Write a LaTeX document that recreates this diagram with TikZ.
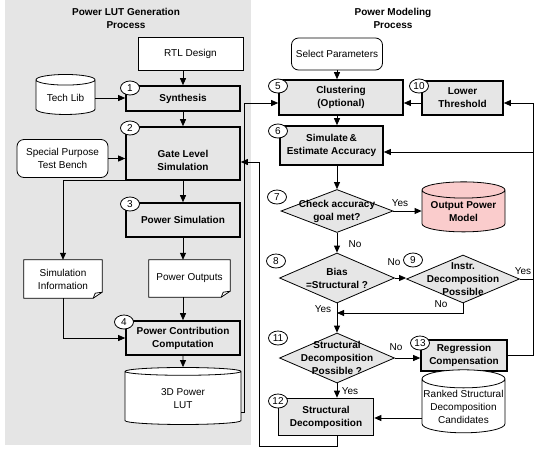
\documentclass[tikz,border=0pt]{standalone}
\usepackage{fontspec}
\setmainfont{Liberation Sans}
\usetikzlibrary{shapes.geometric,arrows.meta}
\definecolor{panelgray}{RGB}{229,229,229}
\definecolor{boxgray}{RGB}{230,230,230}
\definecolor{modelpink}{RGB}{250,204,204}
\tikzset{
  txt/.style={font=\fontsize{10}{13}\selectfont},
  btxt/.style={font=\fontsize{10}{13}\selectfont\bfseries},
  title/.style={btxt,align=center},
  proc/.style={btxt,draw,line width=1.6pt,fill=boxgray,align=center,inner sep=1pt},
  io/.style={txt,draw,line width=0.8pt,fill=white,align=center,inner sep=1pt},
  term/.style={io,rounded corners=7pt},
  drum/.style={txt,cylinder,shape border rotate=90,draw,line width=0.8pt,fill=white,align=center,inner sep=1pt},
  doc/.style={txt,fill=white,align=center,inner sep=1pt},
  dec/.style={diamond,draw,line width=0.8pt,fill=boxgray,inner sep=0pt},
  dectxt/.style={btxt,align=center,inner sep=0pt},
  num/.style={txt,ellipse,draw,line width=0.8pt,fill=white,inner sep=0pt,minimum width=19pt,minimum height=14pt},
  ans/.style={txt,inner sep=0pt},
  wire/.style={line width=0.8pt},
  flow/.style={wire,-{Triangle[length=7pt,width=6pt]}},
}
\begin{document}
\begin{tikzpicture}[x=1pt,y=-1pt]
\useasboundingbox (0,0) rectangle (536,448);
\fill[panelgray] (5,0) rectangle (251,445);

\node[title] (t1) at (126,18.5) {Power LUT Generation\\Process};
\node[title] (t2) at (393,18.5) {Power Modeling\\Process};

% power LUT generation
\node[io,minimum width=105,minimum height=33] (rtl) at (190.5,53.5) {RTL Design};
\node[proc,minimum width=114,minimum height=25] (v1) at (183,98.5) {Synthesis};
\node[drum,aspect=0.27,minimum width=59,minimum height=40] (techlib) at (65.5,98) {Tech Lib};
\node[proc,minimum width=114,minimum height=53] (v2) at (183,153.5) {\rule{0pt}{22pt}Gate Level\\Simulation};
\node[term,minimum width=91,minimum height=38] (tb) at (62.5,158.5) {Special Purpose\\Test Bench};
\node[proc,minimum width=114,minimum height=34] (v3) at (183,220) {Power Simulation};
\node[doc,minimum width=78,minimum height=38] (siminfo) at (63,279) {Simulation\\Information};
\node[doc,minimum width=81,minimum height=37] (pout) at (189.5,278.5) {Power Outputs};
\node[proc,minimum width=114,minimum height=34] (v4) at (183,338) {Power Contribution\\Computation};
\node[drum,aspect=0.17,minimum width=116,minimum height=57] (lut) at (183,398.5) {3D Power\\LUT};

% document corners
\fill[panelgray] (siminfo.south east) -- ++(-9,0) -- ++(9,-6) -- cycle;
\draw[wire] (siminfo.south west) -- (siminfo.north west) -- (siminfo.north east) -- ([yshift=6pt]siminfo.south east) -- ([xshift=-9pt]siminfo.south east) -- cycle;
\draw[wire] ([xshift=-9pt]siminfo.south east) -- ([xshift=-7pt,yshift=5pt]siminfo.south east) -- ([yshift=6pt]siminfo.south east);
\fill[panelgray] (pout.south east) -- ++(-9,0) -- ++(9,-6) -- cycle;
\draw[wire] (pout.south west) -- (pout.north west) -- (pout.north east) -- ([yshift=6pt]pout.south east) -- ([xshift=-9pt]pout.south east) -- cycle;
\draw[wire] ([xshift=-9pt]pout.south east) -- ([xshift=-7pt,yshift=5pt]pout.south east) -- ([yshift=6pt]pout.south east);

% power modeling
\node[term,minimum width=91,minimum height=32] (selp) at (337,54) {Select Parameters};
\node[proc,minimum width=124,minimum height=35] (v5) at (341,97.5) {Clustering\\(Optional)};
\node[proc,minimum width=81,minimum height=34] (v10) at (462.5,98) {Lower\\Threshold};
\node[proc,minimum width=103,minimum height=39] (v6) at (331.5,145.5) {Simulate\,\&\\Estimate Accuracy};
\node[dec,minimum width=112,minimum height=43] (v7) at (337,211) {};
\node[dectxt] (d7) at (v7) {Check accuracy\\goal met?};
\node[drum,aspect=0.24,fill=modelpink,font=\fontsize{10}{13}\selectfont\bfseries,minimum width=83,minimum height=50] (opm) at (463.5,212) {Output Power\\Model};
\node[dec,minimum width=115,minimum height=50] (v8) at (337,278) {};
\node[dectxt] (d8) at (v8) {Bias\\=Structural ?};
\node[dec,minimum width=113,minimum height=48] (v9) at (463,279) {};
\node[dectxt] (d9) at (v9) {Instr.\\Decomposition\\Possible};
\node[dec,minimum width=115,minimum height=50] (v11) at (337,358) {};
\node[dectxt] (d11) at (v11) {Structural\\Decomposition\\Possible ?};
\node[proc,minimum width=86,minimum height=31] (v13) at (464,355.5) {Regression\\Compensation};
\node[proc,minimum width=95,minimum height=37] (v12) at (326,417) {Structural\\Decomposition};
\node[drum,aspect=0.22,minimum width=83,minimum height=63] (rank) at (463.5,407) {Ranked Structural\\Decomposition\\Candidates};

% step numbers
\node[num] (c1) at (130,88) {1};
\node[num] (c2) at (130,128) {2};
\node[num] (c3) at (130,204) {3};
\node[num] (c4) at (124,322) {4};
\node[num] (c5) at (278,86) {5};
\node[num] (c6) at (278,131) {6};
\node[num] (c7) at (277,197) {7};
\node[num] (c8) at (276,261) {8};
\node[num] (c9) at (413,260) {9};
\node[num] (c10) at (419,86) {10};
\node[num] (c11) at (278,338) {11};
\node[num] (c12) at (278,401) {12};
\node[num] (c13) at (420,343) {13};

% answers
\node[ans] (a1) at (400,203) {Yes};
\node[ans] (a2) at (355,244) {No};
\node[ans] (a3) at (394,262) {No};
\node[ans] (a4) at (523,271) {Yes};
\node[ans] (a5) at (441,304) {No};
\node[ans] (a6) at (323,309) {Yes};
\node[ans] (a7) at (396,347) {No};
\node[ans] (a8) at (350,391) {Yes};

\coordinate (j1) at (244,103);
\coordinate (j2) at (533,103);
\coordinate (j3) at (337,313);
\coordinate (j4) at (533,152);
\coordinate (j5) at (259,446);
\coordinate (j6) at (259,162);

% connectors
\draw[flow] (rtl.south -| v1.north) -- (v1.north);
\draw[flow] (techlib.east) -- (techlib.east -| v1.west);
\draw[flow] (v1.south) -- (v2.north);
\draw[flow] (tb.east) -- (tb.east -| v2.west);
\draw[flow] (v2.south) -- (v3.north);
\draw[flow] (v2.south west) -| (siminfo.north);
\draw[flow] (v3.south) -- (v3.south |- pout.north);
\draw[flow] (v4.north |- pout.south) -- (v4.north);
\draw[flow] (siminfo.south) |- (v4.west);
\draw[flow] (v4.south) -- (lut.north);
\draw[flow] ([yshift=-14pt]lut.east) -| (j1) -- (j1 -| v5.west);
\draw[flow] (selp.south) -- (selp.south |- v5.north);
\draw[flow] (j1 -| v10.west) -- (j1 -| v5.east);
\draw[flow] (v5.south -| v7.north) -- (v6.north -| v7.north);
\draw[flow] (v6.south -| v7.north) -- (v7.north);
\draw[flow] (v7.east) -- (v7.east -| opm.west);
\draw[flow] (v7.south) -- (v8.north);
\draw[flow] (v8.east) -- (v8.east -| v9.west);
\draw[flow] (v9.east) -| (j2) -- (j2 -| v10.east);
\draw[flow] (v9.south) |- (j3);
\draw[flow] (v8.south) -- (v11.north);
\draw[flow] (v11.east) -- (v11.east -| v13.west);
\draw[flow] (v13.east) -| (j4) -- (j4 -| v6.east);
\draw[flow] (v11.south) -- (v11.south |- v12.north);
\draw[flow] (rank.west |- 0,418) -- (v12.east |- 0,418);
\draw[flow] (v11.south |- v12.south) |- (j5) -- (j6) -- (j6 -| v2.east);
\end{tikzpicture}
\end{document}
